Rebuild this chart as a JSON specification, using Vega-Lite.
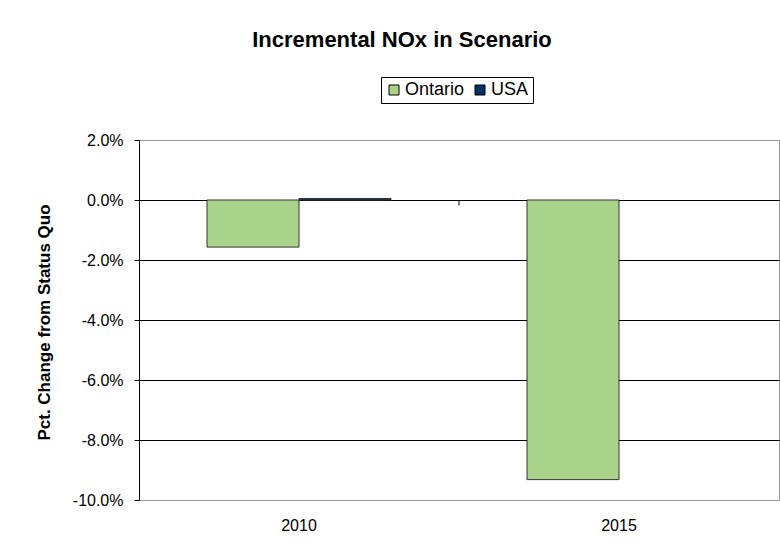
{
  "$schema": "https://vega.github.io/schema/vega-lite/v6.json",
  "width": 640,
  "height": 360,
  "autosize": {"type": "none"},
  "padding": {"left": 139, "top": 140, "right": 1, "bottom": 58},
  "background": "white",
  "config": {
    "font": "Liberation Sans",
    "view": {"stroke": "#999999", "strokeWidth": 1}
  },
  "title": {
    "text": "Incremental NOx in Scenario",
    "font": "Liberation Sans",
    "fontSize": 22,
    "fontWeight": "bold",
    "color": "#000000",
    "anchor": "middle",
    "dx": -57,
    "offset": 25
  },
  "layer": [
    {
      "data": {
        "values": [
          {"year": "2010", "region": "Ontario", "pct": -0.0157},
          {"year": "2010", "region": "USA", "pct": 0.0005},
          {"year": "2015", "region": "Ontario", "pct": -0.0932}
        ]
      },
      "mark": {"type": "bar", "stroke": "#333333", "strokeWidth": 1},
      "encoding": {
        "x": {
          "field": "year",
          "type": "nominal",
          "scale": {"domain": ["2010", "2015"], "paddingInner": 0, "paddingOuter": 0},
          "axis": {
            "title": null,
            "labelAngle": 0,
            "labelFontSize": 16,
            "labelColor": "#000000",
            "labelPadding": 17,
            "ticks": false,
            "domain": false
          }
        },
        "xOffset": {
          "field": "region",
          "type": "nominal",
          "scale": {"domain": ["Ontario", "USA"], "paddingInner": 0, "paddingOuter": 0.74}
        },
        "y": {
          "field": "pct",
          "type": "quantitative",
          "scale": {"domain": [-0.1, 0.02], "nice": false, "zero": false},
          "axis": {
            "title": "Pct. Change from Status Quo",
            "titleFontSize": 17,
            "titleFontWeight": "bold",
            "titleColor": "#000000",
            "titleX": -86,
            "titleY": 182,
            "titleAlign": "center",
            "titleAngle": -90,
            "titleBaseline": "bottom",
            "values": [-0.1, -0.08, -0.06, -0.04, -0.02, 0, 0.02],
            "labelExpr": "replace(format(datum.value, '.1%'), '\u2212', '-')",
            "labelFontSize": 16,
            "labelColor": "#000000",
            "labelPadding": 11,
            "tickColor": "#000000",
            "tickSize": 5,
            "domainColor": "#000000",
            "grid": true,
            "gridColor": {
              "condition": {"test": "datum.value <= -0.099 || datum.value >= 0.019", "value": "transparent"},
              "value": "#000000"
            },
            "gridOpacity": 1
          }
        },
        "color": {
          "field": "region",
          "type": "nominal",
          "scale": {"domain": ["Ontario", "USA"], "range": ["#A9D38A", "#003366"]},
          "legend": {
            "title": null,
            "orient": "none",
            "direction": "horizontal",
            "legendX": 242,
            "legendY": -63,
            "symbolType": "square",
            "symbolSize": 100,
            "symbolStrokeColor": "#000000",
            "symbolStrokeWidth": 1,
            "labelFontSize": 18,
            "labelColor": "#000000",
            "labelOffset": 2,
            "columnPadding": 6,
            "padding": 4,
            "strokeColor": "#000000",
            "fillColor": "white"
          }
        }
      }
    },
    {
      "data": {"values": [{"year": "2015", "top": 0, "bottom": -0.0018}]},
      "mark": {"type": "rule", "color": "#000000", "strokeWidth": 1},
      "encoding": {
        "x": {"field": "year", "type": "nominal", "bandPosition": 0},
        "y": {"field": "top", "type": "quantitative"},
        "y2": {"field": "bottom"}
      }
    }
  ]
}
